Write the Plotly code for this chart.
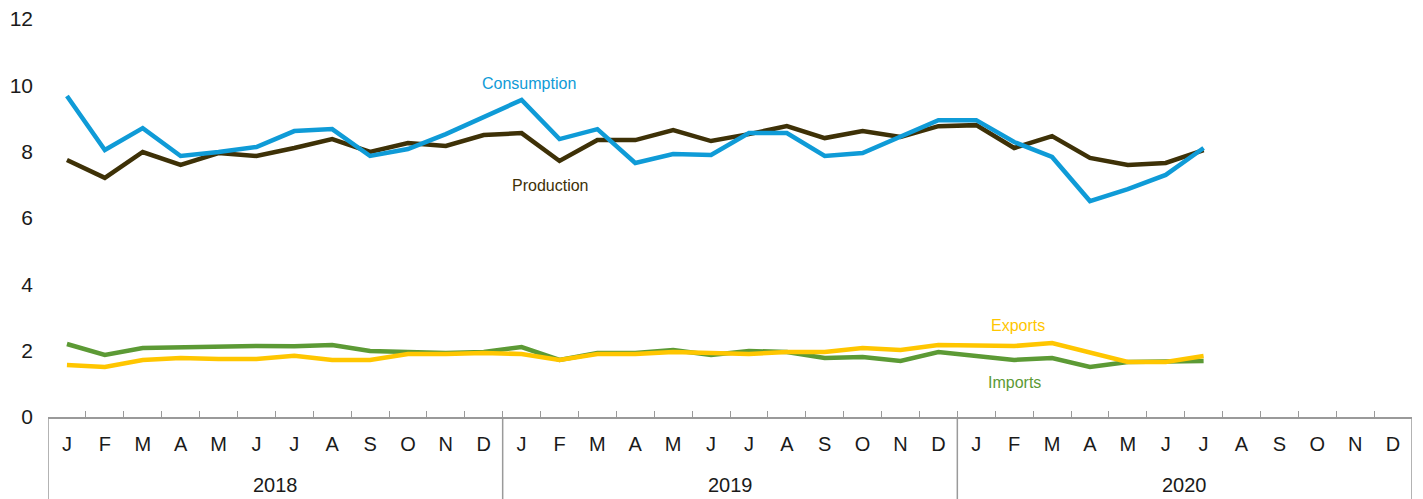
import plotly.graph_objects as go

year_labels = ["2018", "2019", "2020"]
month_letters = ["J", "F", "M", "A", "M", "J", "J", "A", "S", "O", "N", "D"]

consumption = [9.68, 8.05, 8.71, 7.87, 7.99, 8.14, 8.62, 8.68, 7.87, 8.08, 8.53, 9.04,
               9.56, 8.38, 8.68, 7.66, 7.93, 7.90, 8.56, 8.56, 7.87, 7.96, 8.44, 8.95,
               8.95, 8.29, 7.84, 6.51, 6.87, 7.30, 8.11]
production = [7.75, 7.21, 7.99, 7.60, 7.96, 7.87, 8.11, 8.38, 7.99, 8.26, 8.17, 8.50,
              8.56, 7.72, 8.35, 8.35, 8.65, 8.32, 8.53, 8.77, 8.41, 8.62, 8.44, 8.77,
              8.80, 8.11, 8.47, 7.81, 7.60, 7.66, 8.05]
imports = [2.20, 1.87, 2.08, 2.11, 2.11, 2.14, 2.13, 2.17, 1.99, 1.96, 1.93, 1.96,
           2.11, 1.72, 1.93, 1.93, 2.02, 1.87, 1.99, 1.96, 1.78, 1.81, 1.69, 1.96,
           1.84, 1.72, 1.78, 1.51, 1.66, 1.69, 1.69]
exports = [1.57, 1.51, 1.72, 1.78, 1.75, 1.75, 1.85, 1.72, 1.72, 1.90, 1.90, 1.93,
           1.90, 1.72, 1.90, 1.90, 1.96, 1.93, 1.90, 1.96, 1.96, 2.08, 2.02, 2.17,
           2.17, 2.14, 2.23, 1.93, 1.66, 1.66, 1.84]

n_months = len(month_letters) * len(year_labels)
x_idx = list(range(n_months))
tick_text = month_letters * len(year_labels)

colors = {"Consumption": "#0f9bd7", "Production": "#3e3107",
          "Exports": "#ffc600", "Imports": "#5c9a35"}
FONT = "Liberation Sans, Arial"
AXIS_GREY = "#9a9a9a"

fig = go.Figure()
series = [("Imports", imports), ("Exports", exports),
          ("Production", production), ("Consumption", consumption)]
for name, vals in series:
    fig.add_trace(go.Scatter(
        x=x_idx[:len(vals)], y=vals, mode="lines", name=name,
        line=dict(color=colors[name], width=4.5), showlegend=False))

# boundary ticks on an overlaid axis
fig.add_trace(go.Scatter(x=[-0.5, n_months - 0.5], y=[None, None], xaxis="x2",
                         mode="lines", showlegend=False, hoverinfo="skip"))

labels = [("Consumption", 12.2, 10.07), ("Production", 12.75, 6.98),
          ("Exports", 25.1, 2.77), ("Imports", 25.0, 1.03)]
for name, xv, yv in labels:
    fig.add_annotation(text=name, xref="x", yref="y", x=xv, y=yv, showarrow=False,
                       font=dict(color=colors[name], size=16, family=FONT))

# year labels and group dividers
for k, yl in enumerate(year_labels):
    fig.add_annotation(text=yl, xref="x", yref="paper", x=k * 12 + 5.5, y=-0.171,
                       showarrow=False, yanchor="middle",
                       font=dict(size=20, family=FONT, color="#1a1a1a"))
for k in range(len(year_labels) + 1):
    fig.add_shape(type="line", xref="x", yref="paper", x0=k * 12 - 0.5, x1=k * 12 - 0.5,
                  y0=0, y1=-0.21, line=dict(color=AXIS_GREY, width=1.5))

fig.update_layout(
    width=1423, height=499,
    margin=dict(l=48, r=11, t=19, b=82, autoexpand=False),
    paper_bgcolor="white", plot_bgcolor="white",
    font=dict(family=FONT, size=20, color="#1a1a1a"),
    xaxis=dict(range=[-0.5, n_months - 0.5], tickmode="array", tickvals=x_idx,
               ticktext=tick_text, ticks="", showgrid=False, zeroline=False,
               showline=True, linecolor=AXIS_GREY, linewidth=1.5, automargin=False,
               ticklabelstandoff=8, tickfont=dict(size=20, family=FONT)),
    xaxis2=dict(overlaying="x", range=[-0.5, n_months - 0.5], tickmode="array",
                tickvals=[i - 0.5 for i in range(n_months + 1)], ticks="inside",
                ticklen=6, tickcolor=AXIS_GREY, tickwidth=1, showticklabels=False,
                showgrid=False, zeroline=False, side="bottom", anchor="y",
                automargin=False),
    yaxis=dict(range=[0, 12], dtick=2, showgrid=False, zeroline=False, showline=False,
               ticks="", ticklabelstandoff=14, automargin=False,
               tickfont=dict(size=21, family=FONT)),
)

fig.write_html("out.html", config={"displayModeBar": False},
               post_script="document.body.style.margin='0';document.body.style.overflow='hidden';")
